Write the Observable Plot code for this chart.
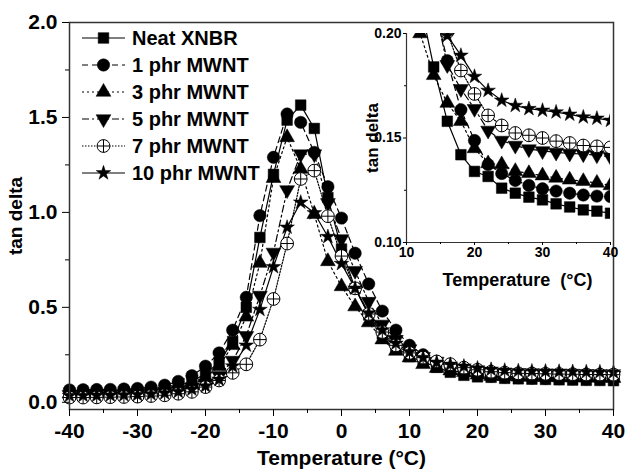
<!DOCTYPE html>
<html><head><meta charset="utf-8">
<script src="https://cdn.jsdelivr.net/npm/d3@7"></script>
<script src="https://cdn.jsdelivr.net/npm/@observablehq/plot@0.6"></script>
<style>
body{margin:0;background:#fff;}
#wrap{position:relative;width:628px;height:474px;font-family:"Liberation Sans",Arial,sans-serif;font-weight:bold;}
#wrap svg{position:absolute;}
</style></head><body><div id="wrap"></div>
<script>
// ---- data ----
const temps = [-40,-38,-36,-34,-32,-30,-28,-26,-24,-22,-20,-18,-16,-14,-12,-10,-8,-6,-4,-2,0,2,4,6,8,10,12,14,16,18,20,22,24,26,28,30,32,34,36,38,40];
const seriesNames = ["Neat XNBR","1 phr MWNT","3 phr MWNT","5 phr MWNT","7 phr MWNT","10 phr MWNT"];
const neat  = [0.05,0.05,0.051,0.052,0.054,0.057,0.062,0.07,0.085,0.11,0.15,0.21,0.32,0.5,0.868,1.2,1.486,1.565,1.442,1.078,0.807,0.6,0.46,0.36,0.29,0.24,0.215,0.184,0.158,0.142,0.134,0.1316,0.126,0.1236,0.1217,0.1204,0.1185,0.117,0.1156,0.115,0.114];
const phr1  = [0.065,0.066,0.067,0.068,0.07,0.073,0.08,0.09,0.11,0.14,0.19,0.26,0.38,0.553,0.983,1.29,1.518,1.474,1.316,1.135,0.97,0.785,0.623,0.48,0.38,0.3,0.25,0.215,0.187,0.1635,0.1488,0.1373,0.133,0.1297,0.1273,0.1257,0.1246,0.1236,0.1227,0.1222,0.122];
const phr3  = [0.045,0.045,0.046,0.047,0.049,0.052,0.056,0.063,0.075,0.095,0.13,0.19,0.3,0.45,0.733,1.18,1.395,1.228,0.99,0.742,0.61,0.504,0.42,0.33,0.27,0.235,0.2,0.18,0.1667,0.158,0.145,0.1378,0.1373,0.1341,0.1331,0.132,0.1309,0.13,0.1293,0.1285,0.1273];
const phr5  = [0.04,0.04,0.041,0.042,0.044,0.046,0.05,0.056,0.066,0.08,0.1,0.14,0.22,0.35,0.562,0.789,1.118,1.307,1.307,1.05,0.86,0.693,0.53,0.41,0.33,0.28,0.24,0.215,0.185,0.1735,0.164,0.1536,0.1488,0.1464,0.1447,0.1438,0.1431,0.1426,0.1423,0.1418,0.141];
const phr7  = [0.025,0.025,0.026,0.027,0.028,0.03,0.033,0.037,0.045,0.055,0.08,0.115,0.155,0.2,0.33,0.544,0.836,1.176,1.22,0.98,0.77,0.6,0.465,0.37,0.3,0.26,0.235,0.215,0.2006,0.1823,0.1711,0.1608,0.156,0.1524,0.1513,0.15,0.1485,0.1476,0.1464,0.146,0.1455];
const phr10 = [0.035,0.035,0.036,0.037,0.038,0.04,0.043,0.048,0.056,0.068,0.085,0.12,0.19,0.3,0.488,0.713,0.921,1.053,0.997,0.872,0.73,0.6,0.47,0.38,0.31,0.265,0.235,0.21,0.199,0.1895,0.1794,0.1727,0.168,0.1655,0.164,0.1632,0.1624,0.1613,0.16,0.1594,0.1584];
const xTicks = [-40,-30,-20,-10,0,10,20,30,40];
const xMinor = [-35,-25,-15,-5,5,15,25,35];
const yTicks = [0,0.5,1,1.5,2];
const yMinor = [0.25,0.75,1.25,1.75];
const insetXTicks = [10,20,30,40];
const insetXMinor = [15,25,35];
const insetYTicks = [0.10,0.15,0.20];
const insetYMinor = [0.125,0.175];

// ---- styles ----
const seriesValues = [neat, phr1, phr3, phr5, phr7, phr10];
const sqrt3 = Math.sqrt(3);
const triangleDown = {draw(ctx, size){const y=-Math.sqrt(size/(sqrt3*3)); ctx.moveTo(0,-y*2); ctx.lineTo(-sqrt3*y,y); ctx.lineTo(sqrt3*y,y); ctx.closePath();}};
const crossedCircle = {draw(ctx, size){const r=Math.sqrt(size/Math.PI); ctx.moveTo(r,0); ctx.arc(0,0,r,0,2*Math.PI); ctx.moveTo(-r,0); ctx.lineTo(r,0); ctx.moveTo(0,-r); ctx.lineTo(0,r);}};
const symbols = [d3.symbolSquare, d3.symbolCircle, d3.symbolTriangle, triangleDown, crossedCircle, d3.symbolStar];
const radii = [6, 6.2, 5.5, 5.5, 6.4, 4.6];
const fills = ["black","black","black","black","white","black"];
const dashes = ["none","6,4","2,3","7,3,2,3","1.5,1.5","none"];
const FONT = '"Liberation Sans", Arial, sans-serif';

const data = seriesNames.flatMap((name,i) => temps.map((t,j) => ({series:name, idx:i, temp:t, tan:seriesValues[i][j]})));

function seriesMarks(clip){
  const marks = [];
  seriesNames.forEach((name,i) => {
    const rows = data.filter(d => d.idx === i);
    marks.push(Plot.line(rows, {x:"temp", y:"tan", stroke:"black", strokeWidth:1.2, strokeDasharray:dashes[i], clip}));
  });
  seriesNames.forEach((name,i) => {
    const rows = data.filter(d => d.idx === i);
    marks.push(Plot.dot(rows, {x:"temp", y:"tan", symbol:symbols[i], r:radii[i], fill:fills[i], stroke:"black", strokeWidth: i===4 ? 1 : 0.5, clip}));
  });
  return marks;
}

const wrap = document.getElementById("wrap");

// ---- main chart ----
const main = Plot.plot({
  width:628, height:474,
  marginLeft:69, marginRight:15, marginTop:22, marginBottom:65,
  x:{domain:[-40,40]},
  y:{domain:[-0.038,2.0]},
  style:{fontFamily:FONT, fontWeight:"bold", fontSize:"21px", color:"black", background:"white", overflow:"visible"},
  marks:[
    ...seriesMarks(false),
    Plot.frame({stroke:"#333", strokeWidth:1.5}),
    Plot.axisX({ticks:xMinor, tickSize:4, tickFormat:() => "", label:null}),
    Plot.axisX({ticks:xTicks, tickSize:7, tickPadding:7, tickFormat:d => String(d), label:null}),
    Plot.axisY({ticks:yMinor, tickSize:4, tickFormat:() => "", label:null}),
    Plot.axisY({ticks:yTicks, tickSize:7, tickPadding:5, tickFormat:d => d.toFixed(1), label:null}),
    Plot.text(["Temperature (°C)"], {text:d => d, frameAnchor:"bottom", lineAnchor:"middle", textAnchor:"middle", dy:49, fontSize:21, fontWeight:"bold"}),
    Plot.text(["tan delta"], {text:d => d, frameAnchor:"left", lineAnchor:"middle", textAnchor:"middle", dx:-54, rotate:-90, fontSize:19, fontWeight:"bold"})
  ]
});
main.style.left = "0px"; main.style.top = "0px";
wrap.appendChild(main);

// ---- inset ----
const inset = Plot.plot({
  width:280, height:280,
  marginLeft:66, marginRight:10, marginTop:23, marginBottom:48,
  x:{domain:[10,40]},
  y:{domain:[0.10,0.20]},
  style:{fontFamily:FONT, fontWeight:"bold", fontSize:"14px", color:"black", background:"transparent", overflow:"visible"},
  marks:[
    ...seriesMarks(true),
    Plot.ruleX([10], {stroke:"#333", strokeWidth:1.2}),
    Plot.ruleY([0.10], {stroke:"#333", strokeWidth:1.2}),
    Plot.axisX({ticks:insetXMinor, tickSize:2, tickFormat:() => "", label:null}),
    Plot.axisX({ticks:insetXTicks, tickSize:3, tickPadding:2, tickFormat:d => String(d), label:null}),
    Plot.axisY({ticks:insetYMinor, tickSize:2, tickFormat:() => "", label:null}),
    Plot.axisY({ticks:insetYTicks, tickSize:3, tickPadding:2, tickFormat:d => d.toFixed(2), label:null}),
    Plot.text(["Temperature  (°C)"], {text:d => d, frameAnchor:"bottom", lineAnchor:"middle", textAnchor:"middle", dx:9, dy:38, fontSize:18, fontWeight:"bold"}),
    Plot.text(["tan delta"], {text:d => d, frameAnchor:"left", lineAnchor:"middle", textAnchor:"middle", dx:-34, rotate:-90, fontSize:17, fontWeight:"bold"})
  ]
});
inset.style.left = "340px"; inset.style.top = "10px";
wrap.appendChild(inset);

// ---- legend ----
const leg = d3.create("svg").attr("width", 260).attr("height", 175)
  .style("left","70px").style("top","20px")
  .attr("font-family", FONT).attr("font-weight","bold").attr("font-size", 20);
seriesNames.forEach((name,i) => {
  const g = leg.append("g").attr("transform", `translate(0,${18 + i*27})`);
  g.append("line").attr("x1",12).attr("x2",55).attr("y1",0).attr("y2",0)
    .attr("stroke","black").attr("stroke-width",1.2).attr("stroke-dasharray", dashes[i]);
  g.append("path").attr("transform","translate(33.5,0)")
    .attr("d", d3.symbol().type(symbols[i]).size(Math.PI*radii[i]*radii[i])())
    .attr("fill", fills[i]).attr("stroke","black").attr("stroke-width", i===4 ? 1 : 0.5);
  g.append("text").attr("x",62).attr("y",0).attr("dy","0.36em").text(name);
});
wrap.appendChild(leg.node());
</script>
</body></html>
